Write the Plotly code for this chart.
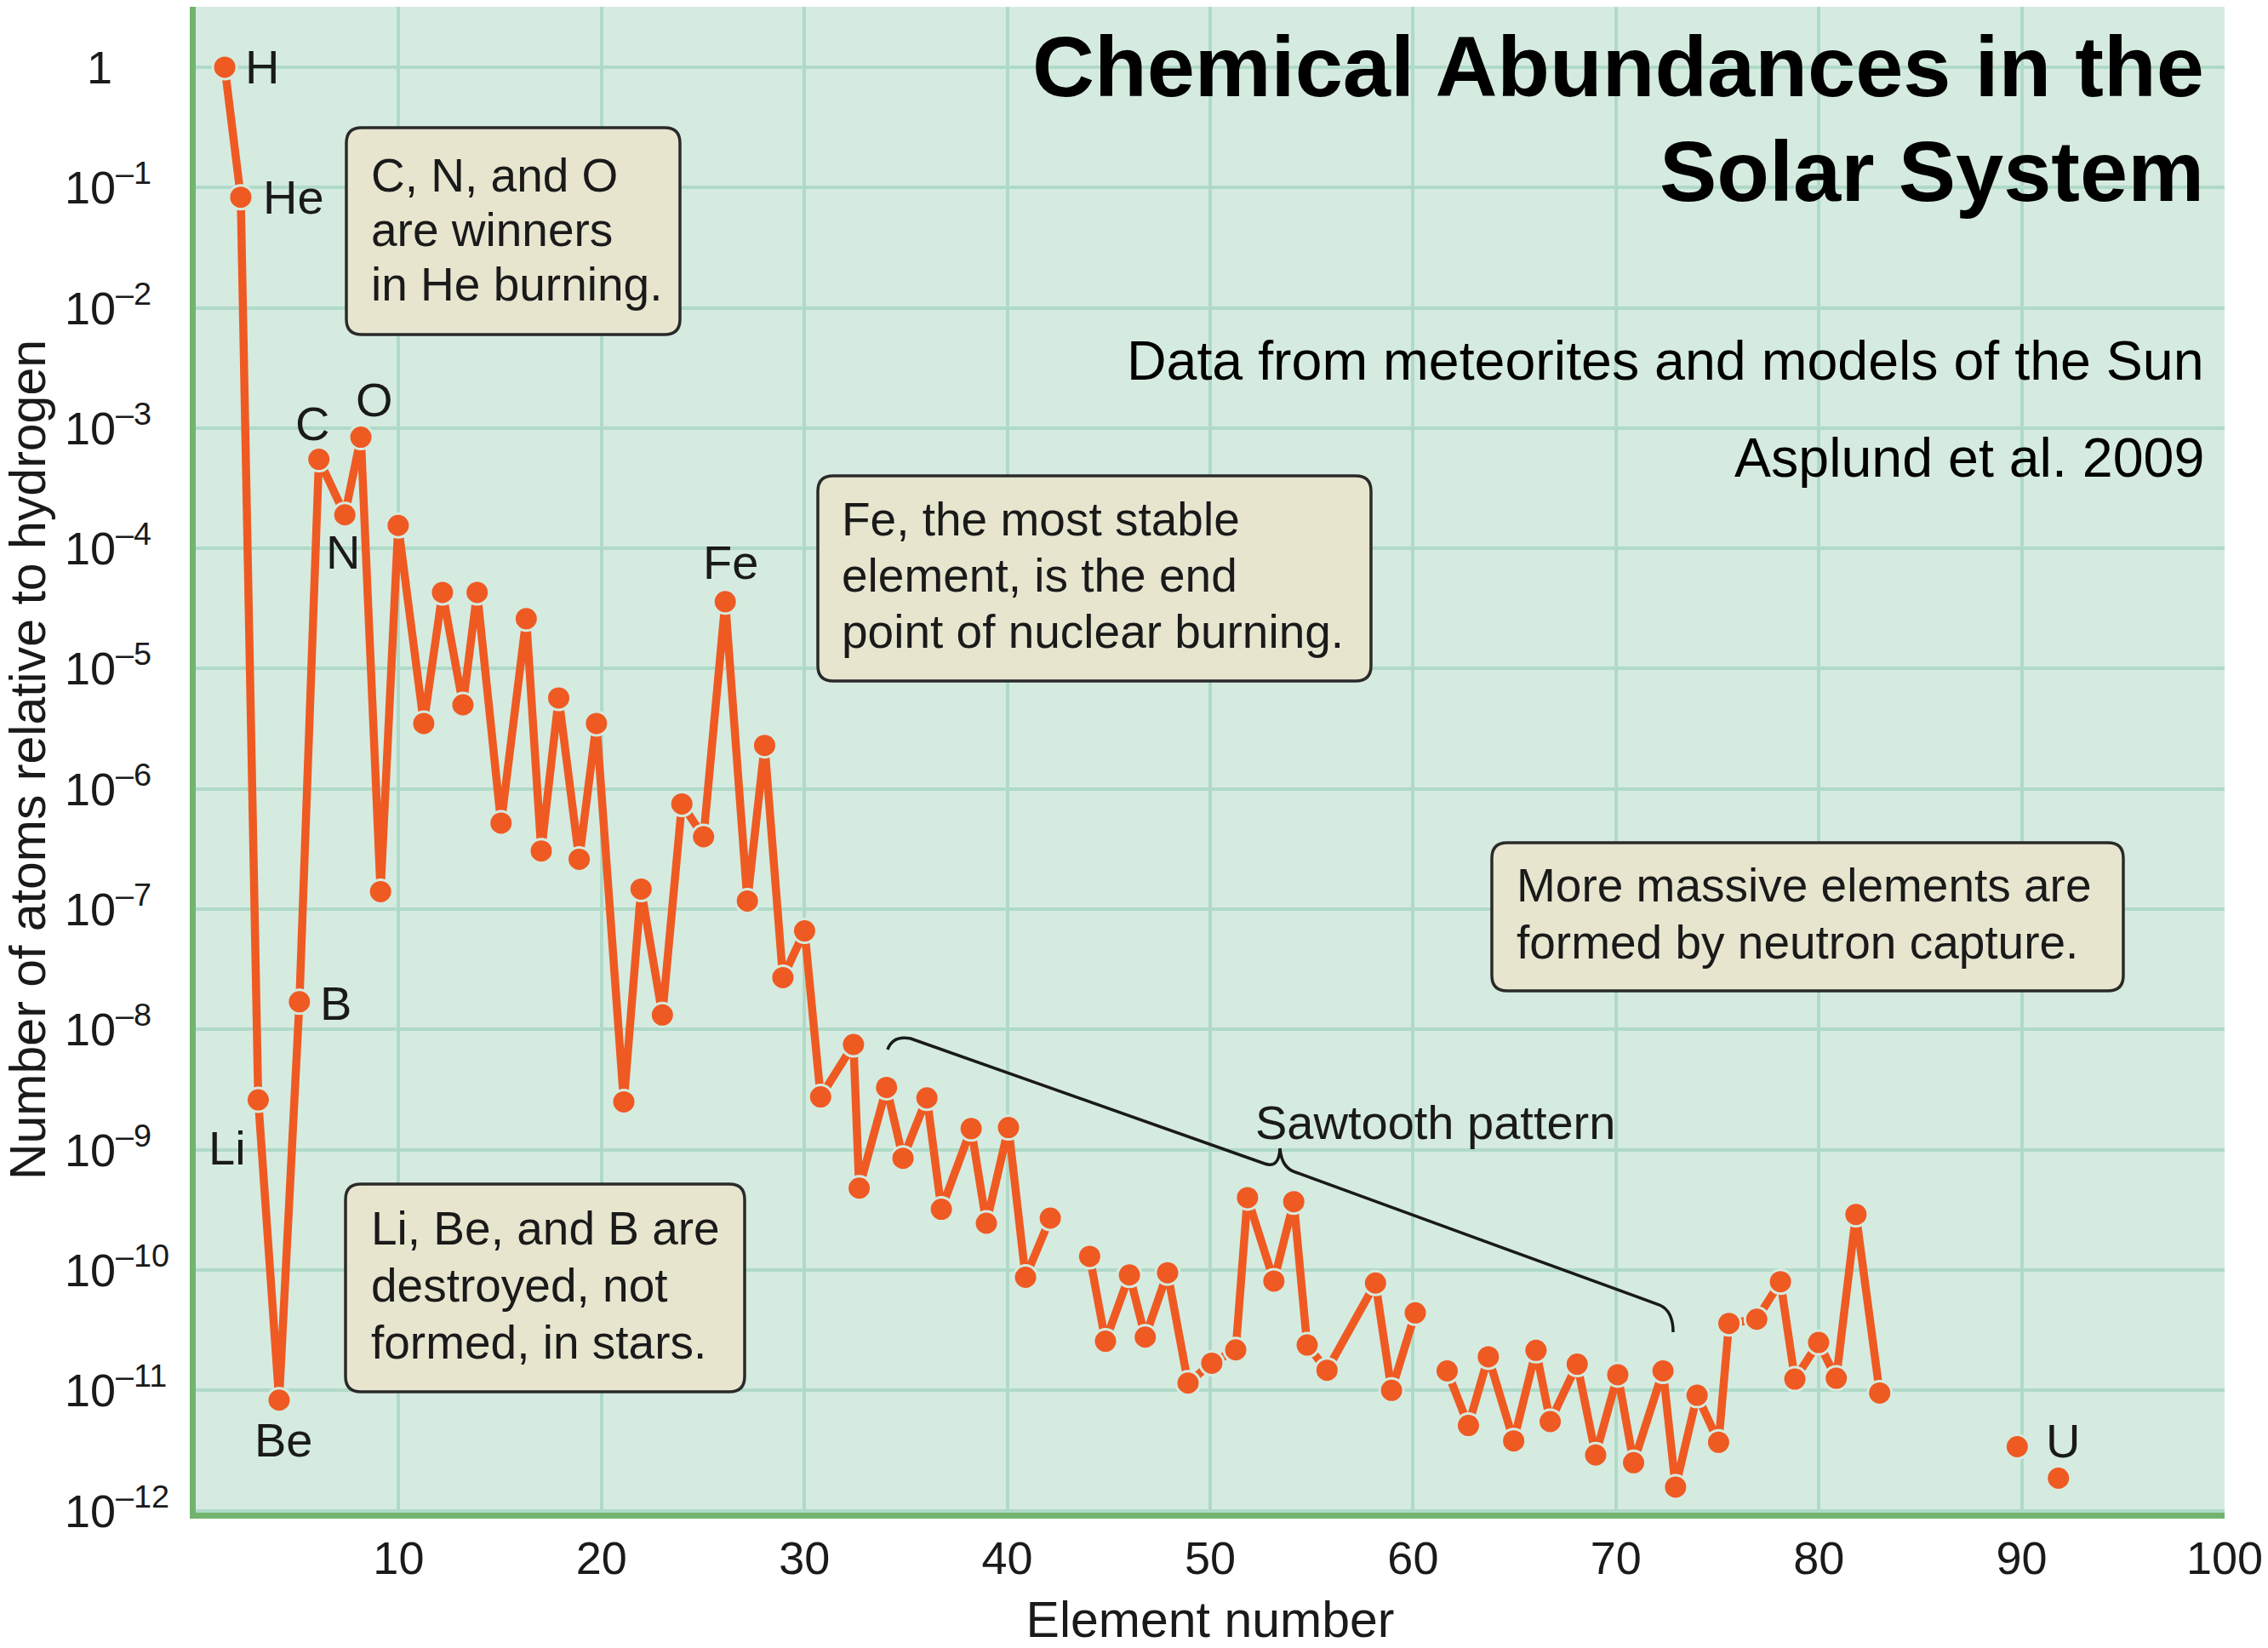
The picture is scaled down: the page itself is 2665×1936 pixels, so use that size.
import numpy as np
import plotly.graph_objects as go

# ---------------------------------------------------------------------------
# Solar-system abundances (atoms relative to hydrogen), Asplund et al. 2009.
# None entries break the line where an element is not plotted.
# ---------------------------------------------------------------------------
element_number = [
    1.43, 2.22, 3.08, 4.11, 5.11, 6.07, 7.35, 8.14, 9.11, 9.98,
    11.24, 12.16, 13.17, 13.87, 15.05, 16.29, 17.03, 17.89, 18.90, 19.75,
    21.10, 21.95, 23.00, 23.96, 25.03, 26.10, 27.19, 28.04, 28.94, 30.01,
    30.80, 32.42, 32.70, 34.05, 34.86, 36.04, 36.75, 38.22, 38.97, 40.06,
    40.90, 42.12, 43.00,
    44.06, 44.84, 46.02, 46.80, 47.90, 48.91, 50.08, 51.26, 51.84, 53.14,
    54.12, 54.78, 55.76, 58.15, 58.94, 60.11, 61.00,
    61.68, 62.73, 63.71, 64.96, 66.06, 66.76, 68.09, 69.00, 70.09, 70.87,
    72.32, 72.94, 74.00, 75.06, 75.57, 76.94, 78.11, 78.82, 79.99, 80.86,
    81.83, 83.00, 86.00,
    89.78, 91.00, 91.81,
]

abundance = [
    1.0, 8.3e-2, 2.6e-9, 8.3e-12, 1.7e-8, 5.5e-4, 1.9e-4, 8.4e-4, 1.4e-7, 1.55e-4,
    3.5e-6, 4.3e-5, 5.0e-6, 4.3e-5, 5.2e-7, 2.6e-5, 3.05e-7, 5.7e-6, 2.6e-7, 3.5e-6,
    2.5e-9, 1.47e-7, 1.32e-8, 7.5e-7, 4.0e-7, 3.6e-5, 1.17e-7, 2.3e-6, 2.7e-8, 6.6e-8,
    2.75e-9, 7.5e-9, 4.8e-10, 3.3e-9, 8.5e-10, 2.7e-9, 3.2e-10, 1.5e-9, 2.45e-10, 1.53e-9,
    8.7e-11, 2.7e-10, None,
    1.3e-10, 2.56e-11, 9.1e-11, 2.77e-11, 9.5e-11, 1.15e-11, 1.68e-11, 2.17e-11, 4.0e-10, 8.1e-11,
    3.7e-10, 2.38e-11, 1.47e-11, 7.8e-11, 1.0e-11, 4.4e-11, None,
    1.45e-11, 5.1e-12, 1.9e-11, 3.8e-12, 2.15e-11, 5.5e-12, 1.65e-11, 2.9e-12, 1.35e-11, 2.5e-12,
    1.45e-11, 1.57e-12, 9.1e-12, 3.7e-12, 3.6e-11, 3.9e-11, 8.0e-11, 1.24e-11, 2.5e-11, 1.26e-11,
    2.9e-10, 9.5e-12, None,
    3.4e-12, None, 1.86e-12,
]

# Elements named next to their points: (symbol, index into the lists above)
named_elements = [("H", 0), ("He", 1), ("Li", 2), ("Be", 3), ("B", 4), ("C", 5),
                  ("N", 6), ("O", 7), ("Fe", 25), ("U", 85)]

y_exponents = list(range(0, -13, -1))
x_ticks = [10, 20, 30, 40, 50, 60, 70, 80, 90, 100]

title_lines = ["Chemical Abundances in the", "Solar System"]
subtitle_lines = ["Data from meteorites and models of the Sun", "Asplund et al. 2009"]
notes = [
    ["C, N, and O", "are winners", "in He burning."],
    ["Fe, the most stable", "element, is the end", "point of nuclear burning."],
    ["Li, Be, and B are", "destroyed, not", "formed, in stars."],
    ["More massive elements are", "formed by neutron capture."],
]
bracket_label = "Sawtooth pattern"

# ---------------------------------------------------------------------------
# Styling
# ---------------------------------------------------------------------------
FONT = "Liberation Sans, Arial, Helvetica, sans-serif"
ORANGE = "#EF5A23"
PLOT_BG = "#D5EBE0"
GRID = "#B0DAC8"
AXIS_GREEN = "#72B46E"
BOX_FILL = "#E8E5CF"
BOX_EDGE = "#2A2A2A"
INK = "#1A1A1A"

FIG_W, FIG_H = 2665, 1936
L, R, T, B = 230, 2614, 8, 1777      # plot-area edges in pixels
W, H = R - L, B - T


def px(x):
    return (x - L) / W


def py(y):
    return (B - y) / H


fig = go.Figure()
fig.add_trace(go.Scatter(
    x=element_number, y=abundance, mode="lines+markers",
    connectgaps=False,
    line=dict(color=ORANGE, width=9.5),
    marker=dict(color=ORANGE, size=28, line=dict(color=PLOT_BG, width=3)),
    hoverinfo="skip", showlegend=False,
))

annotations = []
shapes = []

# y tick labels, left-aligned like the printed figure
for e in y_exponents:
    if e == 0:
        annotations.append(dict(text="1", xref="paper", yref="y", x=px(117), y=0,
                                xanchor="center", yanchor="middle", showarrow=False,
                                font=dict(family=FONT, size=54, color=INK)))
    else:
        annotations.append(dict(text=f"10<sup>\u2013{-e}</sup>", xref="paper", yref="y",
                                x=px(74), y=e, xanchor="left", yanchor="middle",
                                yshift=4, showarrow=False,
                                font=dict(family=FONT, size=54, color=INK)))

# element symbols beside their points (pixel offsets from the marker)
label_offsets = {"H": (44, 0), "He": (62, 0), "Li": (-36, -56), "Be": (6, -47),
                 "B": (43, -2), "C": (-8, 42), "N": (-2, -44), "O": (16, 44),
                 "Fe": (6, 46), "U": (5, 44)}
for sym, i in named_elements:
    dx, dy = label_offsets[sym]
    annotations.append(dict(text=sym, x=element_number[i], y=float(np.log10(abundance[i])),
                            xref="x", yref="y", xshift=dx, yshift=dy,
                            xanchor="center", yanchor="middle", showarrow=False,
                            font=dict(family=FONT, size=56, color=INK)))

# title block
for line, yc in zip(title_lines, [78, 201]):
    annotations.append(dict(text=f"<b>{line}</b>", xref="paper", yref="paper",
                            x=px(2592), y=py(yc), xanchor="right", yanchor="middle",
                            showarrow=False, font=dict(family=FONT, size=101, color="#000")))
for line, yc in zip(subtitle_lines, [424, 538]):
    annotations.append(dict(text=line, xref="paper", yref="paper",
                            x=px(2592), y=py(yc), xanchor="right", yanchor="middle",
                            showarrow=False, font=dict(family=FONT, size=64.5, color="#000")))


def rounded_box(x0, y0, x1, y1, r=18):
    X0, X1, Yt, Yb = px(x0), px(x1), py(y0), py(y1)
    rx, ry = r / W, r / H
    path = (f"M {X0+rx:.5f},{Yt:.5f} L {X1-rx:.5f},{Yt:.5f} Q {X1:.5f},{Yt:.5f} {X1:.5f},{Yt-ry:.5f} "
            f"L {X1:.5f},{Yb+ry:.5f} Q {X1:.5f},{Yb:.5f} {X1-rx:.5f},{Yb:.5f} "
            f"L {X0+rx:.5f},{Yb:.5f} Q {X0:.5f},{Yb:.5f} {X0:.5f},{Yb+ry:.5f} "
            f"L {X0:.5f},{Yt-ry:.5f} Q {X0:.5f},{Yt:.5f} {X0+rx:.5f},{Yt:.5f} Z")
    return dict(type="path", xref="paper", yref="paper", path=path,
                fillcolor=BOX_FILL, line=dict(color=BOX_EDGE, width=3.5), layer="above")


# callout boxes: (left, top, right, bottom, text-left, first-line centre, line step)
box_geometry = [
    (407, 150, 799, 393, 434, 206, 64),
    (961, 559, 1611, 800, 987, 610, 66),
    (406, 1391, 875, 1635, 434, 1443, 67),
    (1753, 990, 2495, 1164, 1780, 1040, 67),
]
for lines, (x0, y0, x1, y1, tx, ty, step) in zip(notes, box_geometry):
    shapes.append(rounded_box(x0, y0, x1, y1))
    for k, line in enumerate(lines):
        annotations.append(dict(text=line, xref="paper", yref="paper",
                                x=px(tx), y=py(ty + k * step), xanchor="left",
                                yanchor="middle", showarrow=False,
                                font=dict(family=FONT, size=55, color=INK)))

# brace marking the sawtooth region
pts = [("M", (1043, 1233)), ("Q", (1049, 1216), (1070, 1220)), ("L", (1486, 1367)),
       ("Q", (1503, 1373), (1504, 1349)), ("Q", (1506, 1372), (1522, 1377)),
       ("L", (1950, 1533)), ("Q", (1966, 1540), (1966, 1565))]
path = ""
for cmd, *coords in pts:
    path += cmd + " " + " ".join(f"{px(x):.5f},{py(y):.5f}" for x, y in coords) + " "
shapes.append(dict(type="path", xref="paper", yref="paper", path=path.strip(),
                   line=dict(color=INK, width=3.5), layer="above"))
annotations.append(dict(text=bracket_label, xref="paper", yref="paper",
                        x=px(1686), y=py(1318), xanchor="center", yanchor="middle",
                        showarrow=False, font=dict(family=FONT, size=56, color=INK)))

fig.update_layout(
    width=FIG_W, height=FIG_H,
    margin=dict(l=L, r=FIG_W - R, t=T, b=FIG_H - B, autoexpand=False),
    paper_bgcolor="white", plot_bgcolor=PLOT_BG,
    font=dict(family=FONT, color=INK),
    annotations=annotations, shapes=shapes,
    xaxis=dict(range=[0, 100], tickvals=x_ticks, ticks="", showgrid=True,
               gridcolor=GRID, gridwidth=4, showline=True, linecolor=AXIS_GREEN,
               linewidth=7, zeroline=False, tickfont=dict(family=FONT, size=54, color=INK),
               ticklabelstandoff=0,
               title=dict(text="Element number", font=dict(family=FONT, size=59, color=INK),
                          standoff=26)),
    yaxis=dict(type="log", range=[-12.017, 0.502],
               tickvals=[10.0 ** e for e in y_exponents], showticklabels=False, ticks="",
               showgrid=True, gridcolor=GRID, gridwidth=4, showline=True,
               linecolor=AXIS_GREEN, linewidth=7, zeroline=False,
               title=dict(text="Number of atoms relative to hydrogen",
                          font=dict(family=FONT, size=59, color=INK), standoff=160)),
)

fig.write_html("out.html")
